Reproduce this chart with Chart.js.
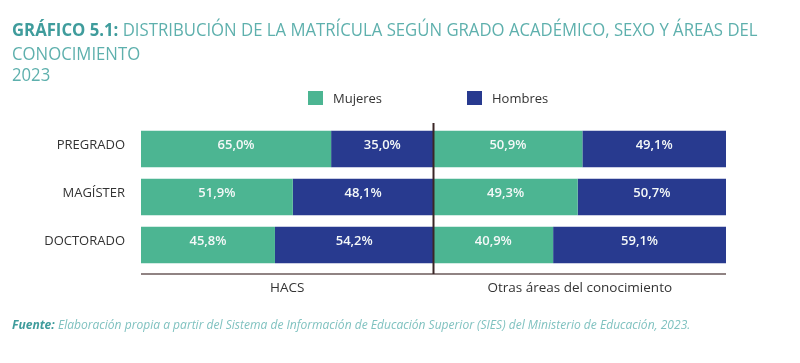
<!DOCTYPE html>
<html lang="es">
<head>
<meta charset="utf-8">
<script src="https://cdn.jsdelivr.net/npm/chart.js@4.4.1/dist/chart.umd.min.js"></script>
<style>
  html, body { margin: 0; padding: 0; background: #fff; }
  #wrap { position: relative; width: 800px; height: 363px; overflow: hidden; }
  #chart { position: absolute; left: 0; top: 0; }
  .title { position: absolute; left: 12px; font-family: "Open Sans", sans-serif; font-size: 18px; color: #5eb0ad; white-space: nowrap; transform-origin: 0 0; }
  .title b { color: #3f9c9c; }
  .legend { position: absolute; top: 91px; font-family: "Open Sans", sans-serif; font-size: 13px; color: #333; line-height: 14px; }
  .legend span { display: inline-block; width: 15px; height: 14px; vertical-align: top; margin-right: 10px; }
  .source { position: absolute; left: 12px; top: 316px; font-family: "Open Sans", sans-serif; font-style: italic; font-size: 12px; color: #80c2c0; white-space: nowrap; transform-origin: 0 0; }
  .source b { color: #3f9c9c; }
</style>
</head>
<body>
<div id="wrap">
  <canvas id="chart" width="800" height="363"></canvas>
  <div class="title" id="t1" style="top:17px"><b>GRÁFICO 5.1:</b> DISTRIBUCIÓN DE LA MATRÍCULA SEGÚN GRADO ACADÉMICO, SEXO Y ÁREAS DEL</div>
  <div class="title" id="t2" style="top:41px">CONOCIMIENTO</div>
  <div class="title" id="t3" style="top:62px">2023</div>
  <div class="legend" style="left:308px"><span style="background:#4cb592"></span>Mujeres</div>
  <div class="legend" style="left:467px"><span style="background:#283a8f"></span>Hombres</div>
  <div class="source" id="src"><b>Fuente:</b> Elaboración propia a partir del Sistema de Información de Educación Superior (SIES) del Ministerio de Educación, 2023.</div>
</div>
<script>
// datos
const categories = ['PREGRADO', 'MAGÍSTER', 'DOCTORADO'];
const panels = ['HACS', 'Otras áreas del conocimiento'];
const hacsMujeres = [65.0, 51.9, 45.8];
const hacsHombres = [35.0, 48.1, 54.2];
const otrasMujeres = [50.9, 49.3, 40.9];
const otrasHombres = [49.1, 50.7, 59.1];

const verde = '#4cb592';
const azul = '#283a8f';

// fuente condensada: se comprime el texto al ancho del original
const t1 = document.getElementById('t1');
const squeeze = 746 / t1.scrollWidth;
['t1', 't2', 't3'].forEach(id => {
    document.getElementById(id).style.transform = 'scaleX(' + squeeze + ')';
});
const src = document.getElementById('src');
src.style.transform = 'scaleX(' + (678 / src.scrollWidth) + ')';

function fmt(v) {
    return v.toFixed(1).replace('.', ',') + '%';
}

// etiquetas dentro de las barras
const barLabels = {
    id: 'barLabels',
    afterDatasetsDraw(chart) {
        const ctx = chart.ctx;
        ctx.save();
        ctx.font = '600 13px "Open Sans", sans-serif';
        ctx.fillStyle = '#f4f8f8';
        ctx.textAlign = 'center';
        ctx.textBaseline = 'middle';
        chart.data.datasets.forEach((ds, i) => {
            chart.getDatasetMeta(i).data.forEach((bar, j) => {
                const cx = (bar.x + bar.base) / 2;
                ctx.fillText(fmt(ds.data[j]), cx, bar.y - 4);
            });
        });
        ctx.restore();
    }
};

// lineas de eje y separador de paneles
const panelLines = {
    id: 'panelLines',
    afterDraw(chart) {
        const ctx = chart.ctx;
        const area = chart.chartArea;
        const x = chart.scales.x;
        const yLine = area.bottom + 5;
        ctx.save();
        ctx.strokeStyle = '#6b5a5a';
        ctx.lineWidth = 1.5;
        ctx.beginPath();
        ctx.moveTo(area.left, yLine);
        ctx.lineTo(area.right, yLine);
        ctx.stroke();

        ctx.strokeStyle = '#3a2626';
        ctx.lineWidth = 2;
        const xm = x.getPixelForValue(100);
        ctx.beginPath();
        ctx.moveTo(xm, area.top - 2);
        ctx.lineTo(xm, yLine);
        ctx.stroke();

        ctx.font = '13.5px "Open Sans", sans-serif';
        ctx.fillStyle = '#333333';
        ctx.textAlign = 'center';
        ctx.textBaseline = 'middle';
        panels.forEach((p, i) => {
            ctx.fillText(p, x.getPixelForValue(50 + i * 100), yLine + 14);
        });
        ctx.restore();
    }
};

const ctx = document.getElementById('chart').getContext('2d');
const chart = new Chart(ctx, {
    type: 'bar',
    data: {
        labels: categories,
        datasets: [
            { label: 'Mujeres', data: hacsMujeres, backgroundColor: verde },
            { label: 'Hombres', data: hacsHombres, backgroundColor: azul },
            { label: 'Mujeres', data: otrasMujeres, backgroundColor: verde },
            { label: 'Hombres', data: otrasHombres, backgroundColor: azul }
        ]
    },
    options: {
        indexAxis: 'y',
        responsive: false,
        animation: false,
        barPercentage: 0.76,
        categoryPercentage: 1,
        layout: { padding: { top: 125, bottom: 94, right: 74, left: 0 } },
        plugins: {
            legend: { display: false },
            tooltip: { enabled: false }
        },
        scales: {
            x: {
                stacked: true,
                min: 0,
                max: 200,
                display: false
            },
            y: {
                stacked: true,
                grid: { display: false, drawTicks: false },
                border: { display: false },
                ticks: {
                    padding: 16,
                    labelOffset: -4,
                    color: '#333333',
                    font: { family: 'Open Sans', size: 13 }
                },
                afterFit(scale) {
                    scale.width = 141;
                }
            }
        }
    },
    plugins: [barLabels, panelLines]
});
</script>
</body>
</html>
